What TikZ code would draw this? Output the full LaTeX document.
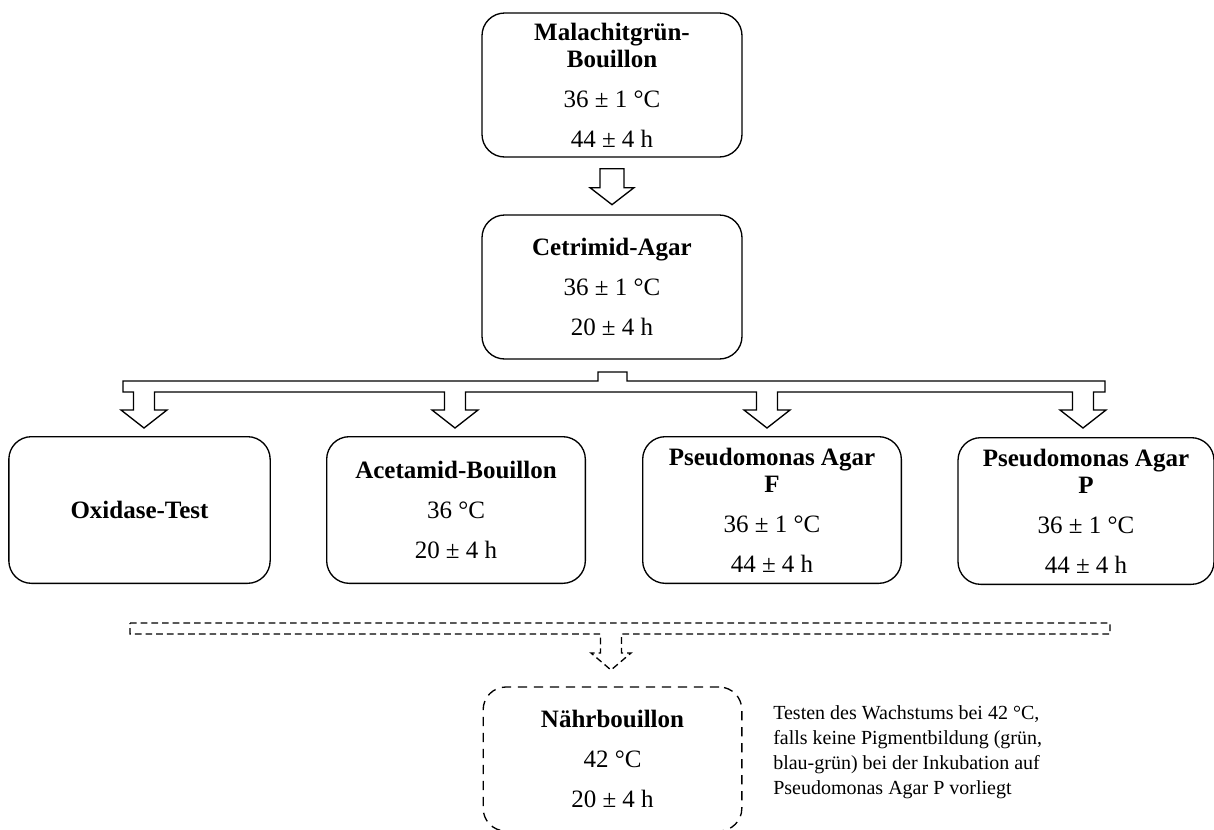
\documentclass[tikz,border=0pt]{standalone}
\usepackage{fontspec}
\setmainfont{Liberation Serif}
\usetikzlibrary{calc}

\tikzset{
  stufe/.style={draw, line width=1pt, rounded corners=17pt, align=center, inner sep=0pt,
    minimum width=195pt, minimum height=108pt, font=\fontsize{18.75}{30}\selectfont},
  block/.style={draw, line width=1pt, fill=white, line join=miter},
  optional/.style={dash pattern=on 5pt off 3pt}
}

\begin{document}
\begin{tikzpicture}[x=0.75pt,y=-0.75pt]
\useasboundingbox (0,0) rectangle (1214,829);

% Anreicherung
\node[stufe] (malachit) at (612,85) {\textbf{Malachitgrün-}\\[-9.75pt]\textbf{Bouillon}\\36 ± 1 °C\\44 ± 4 h};
\node[stufe] (cetrimid) at (612,287) {\textbf{Cetrimid-Agar}\\36 ± 1 °C\\20 ± 4 h};

% Bestaetigung
\node[stufe, minimum width=196pt, minimum height=110pt] (oxidase) at (139.5,510) {\textbf{Oxidase-Test}};
\node[stufe, minimum width=194pt, minimum height=110pt] (acetamid) at (456,510) {\textbf{Acetamid-Bouillon}\\36 °C\\20 ± 4 h};
\node[stufe, minimum width=194pt, minimum height=110pt] (agarF) at (772,510) {\textbf{Pseudomonas Agar}\\[-9.75pt]\textbf{F}\\36 ± 1 °C\\44 ± 4 h};
\node[stufe, minimum width=192pt, minimum height=110pt] (agarP) at (1086,511) {\textbf{Pseudomonas Agar}\\[-9.75pt]\textbf{P}\\36 ± 1 °C\\44 ± 4 h};

% optional
\node[stufe, dash pattern=on 7pt off 5pt, minimum width=194pt] (naehr) at (612.5,759) {\textbf{Nährbouillon}\\42 °C\\20 ± 4 h};
\node[anchor=west, align=left, inner sep=0pt, font=\fontsize{15}{18.75}\selectfont] (hinweis) at (773,752)
  {Testen des Wachstums bei 42 °C,\\falls keine Pigmentbildung (grün,\\blau-grün) bei der Inkubation auf\\Pseudomonas Agar P vorliegt};

% Pfeil oben
\begin{scope}[shift={(malachit.south)}]
\draw[block] (-12,11) -- (12,11) -- (12,30) -- (22,30) -- (0,47) -- (-22,30) -- (-12,30) -- cycle;
\end{scope}

% Verzweigung
\draw[block] (123,381) -- (598,381) -- (598,372) -- (627,372) -- (627,381) -- (1105,381) -- (1105,392)
  \foreach \ax in {1083,767,455,144} {
    -- (\ax+10.5,392) -- (\ax+10.5,410) -- (\ax+23,410) -- (\ax,428)
    -- (\ax-23,410) -- (\ax-10.5,410) -- (\ax-10.5,392)
  } -- (123,392) -- cycle;

% gestrichelte Zusammenfuehrung
\draw[block, optional] (130,623) -- (1110,623) -- (1110,634) -- (621.5,634) -- (621.5,653) -- (631,653)
  -- (611,670) -- (591,653) -- (600.5,653) -- (600.5,634) -- (130,634) -- cycle;
\end{tikzpicture}
\end{document}
